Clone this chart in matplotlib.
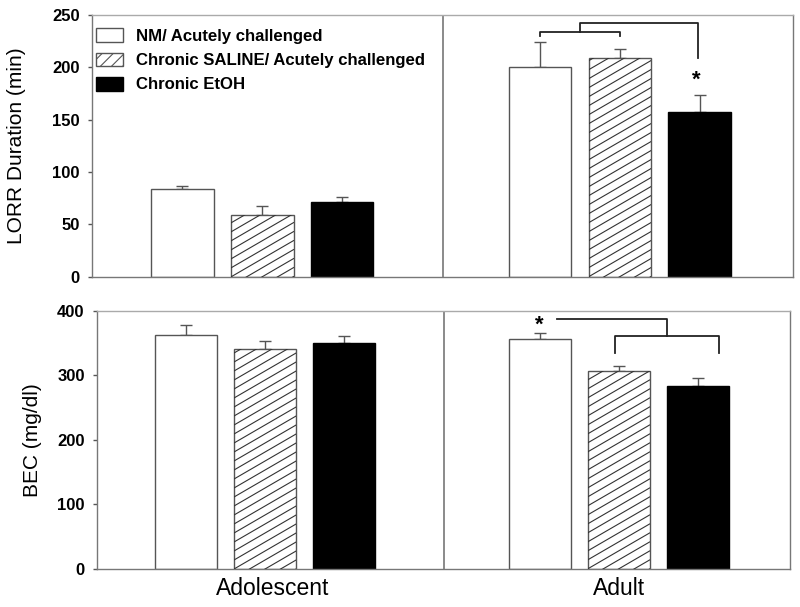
import numpy as np
import matplotlib
matplotlib.use("Agg")
import matplotlib.pyplot as plt
from matplotlib.patches import Patch
from matplotlib.lines import Line2D
from matplotlib.transforms import IdentityTransform

plt.rcParams['font.family'] = ['Liberation Sans', 'DejaVu Sans']
plt.rcParams['hatch.linewidth'] = 0.8

groups = ['Adolescent', 'Adult']
series = ['NM/ Acutely challenged', 'Chronic SALINE/ Acutely challenged', 'Chronic EtOH']
faces = ['white', 'white', 'black']

# LORR duration (min), rows = series, cols = groups
lorr_mean = [[83.5, 200.5], [58.5, 209.0], [71.5, 157.0]]
lorr_err = [[3.5, 23.5], [9.0, 9.0], [5.0, 16.5]]

# BEC (mg/dl)
bec_mean = [[362.5, 356.5], [340.0, 307.0], [350.5, 283.0]]
bec_err = [[15.5, 8.5], [13.5, 7.0], [10.5, 13.5]]

centers = np.array([0.485, 1.505])
offsets = [-0.228, 0.0, 0.228]
width = 0.178
edge = '#555555'

fig = plt.figure(figsize=(8, 6.07), dpi=100)
ax1 = fig.add_axes([0.1155, 0.5443, 0.876, 0.4307])
ax2 = fig.add_axes([0.1215, 0.0626, 0.8663, 0.4255])


def shallow_hatch(ax, patch, gap=9.0, slope=0.58):
    # thin diagonal lines in pixel space, clipped to the bar
    (x0, y0), (x1, y1) = ax.transData.transform(
        [(patch.get_x(), patch.get_y()),
         (patch.get_x() + patch.get_width(), patch.get_y() + patch.get_height())])
    w = x1 - x0
    for b in np.arange(y0 - slope * w, y1 + gap, gap):
        ln = Line2D([x0, x1], [b, b + slope * w], transform=IdentityTransform(),
                    color='#333333', lw=0.8, zorder=2.5)
        ln.set_clip_path(patch)
        fig.add_artist(ln)


def draw_panel(ax, means, errs, ymax, step, ylabel):
    ax.set_xlim(0, 2)
    ax.set_ylim(0, ymax)
    for i in range(3):
        x = centers + offsets[i]
        bars = ax.bar(x, means[i], width, color=faces[i],
                      edgecolor=edge if i < 2 else 'black', linewidth=1.0, zorder=2)
        if i == 1:
            for p in bars:
                shallow_hatch(ax, p)
        ax.errorbar(x, means[i], yerr=[np.zeros(2), errs[i]], fmt='none',
                    ecolor='#555555', elinewidth=1.0, capsize=4.5, capthick=1.0, zorder=1)
    ax.set_xlim(0, 2)
    ax.set_ylim(0, ymax)
    ax.set_yticks(np.arange(0, ymax + 1, step))
    ax.set_xticks([])
    ax.axvline(1, color='#777777', lw=1.2, zorder=0)
    for s in ax.spines.values():
        s.set_color('#777777')
        s.set_linewidth(1.0)
    ax.spines['top'].set_color('#aaaaaa')
    ax.tick_params(axis='y', direction='out', length=3, width=1, color='#555555',
                   labelsize=12, pad=6)
    for lab in ax.get_yticklabels():
        lab.set_fontweight('bold')
    ax.set_ylabel(ylabel, fontsize=15)


draw_panel(ax1, lorr_mean, lorr_err, 250, 50, 'LORR Duration (min)')
draw_panel(ax2, bec_mean, bec_err, 400, 100, 'BEC (mg/dl)')
ax1.yaxis.set_label_coords(-0.095, 0.5)
ax2.yaxis.set_label_coords(-0.08, 0.5)

handles = [Patch(facecolor='white', edgecolor=edge, lw=1.0),
           Patch(facecolor='white', edgecolor=edge, lw=1.0, hatch='///'),
           Patch(facecolor='black', edgecolor='black', lw=1.0)]
ax1.legend(handles, series, loc='upper left', bbox_to_anchor=(-0.008, 0.985), frameon=False,
           prop={'size': 12.1, 'weight': 'bold'}, handlelength=1.6, handleheight=0.9,
           labelspacing=0.5, handletextpad=0.75, borderaxespad=0.25, borderpad=0.3)

# significance brackets, top panel (Adult)
a = centers[1] + np.array(offsets)
k = dict(color='#222222', lw=1.3)
ax1.plot([a[0], a[0], a[1], a[1]], [230, 234, 234, 230], **k)
mid = (a[0] + a[1]) / 2
ax1.plot([mid, mid, a[2] - 0.005, a[2] - 0.005], [234, 242.5, 242.5, 209.5], **k)
ax1.text(a[2] - 0.01, 188, '*', ha='center', va='center', fontsize=16, fontweight='bold')

# significance brackets, bottom panel (Adult)
ax2.plot([a[1] - 0.01, a[1] - 0.01, a[2] + 0.06, a[2] + 0.06], [334, 361.5, 361.5, 334], **k)
ax2.plot([a[0] + 0.05, 1.645, 1.645], [387, 387, 361.5], **k)
ax2.text(a[0], 378, '*', ha='center', va='center', fontsize=16, fontweight='bold')

# group labels
for c, g in zip([0.506, 1.507], groups):
    ax2.text(c, -0.03, g, transform=ax2.get_xaxis_transform(),
             ha='center', va='top', fontsize=16.5)

fig.savefig('out.png', dpi=100)
